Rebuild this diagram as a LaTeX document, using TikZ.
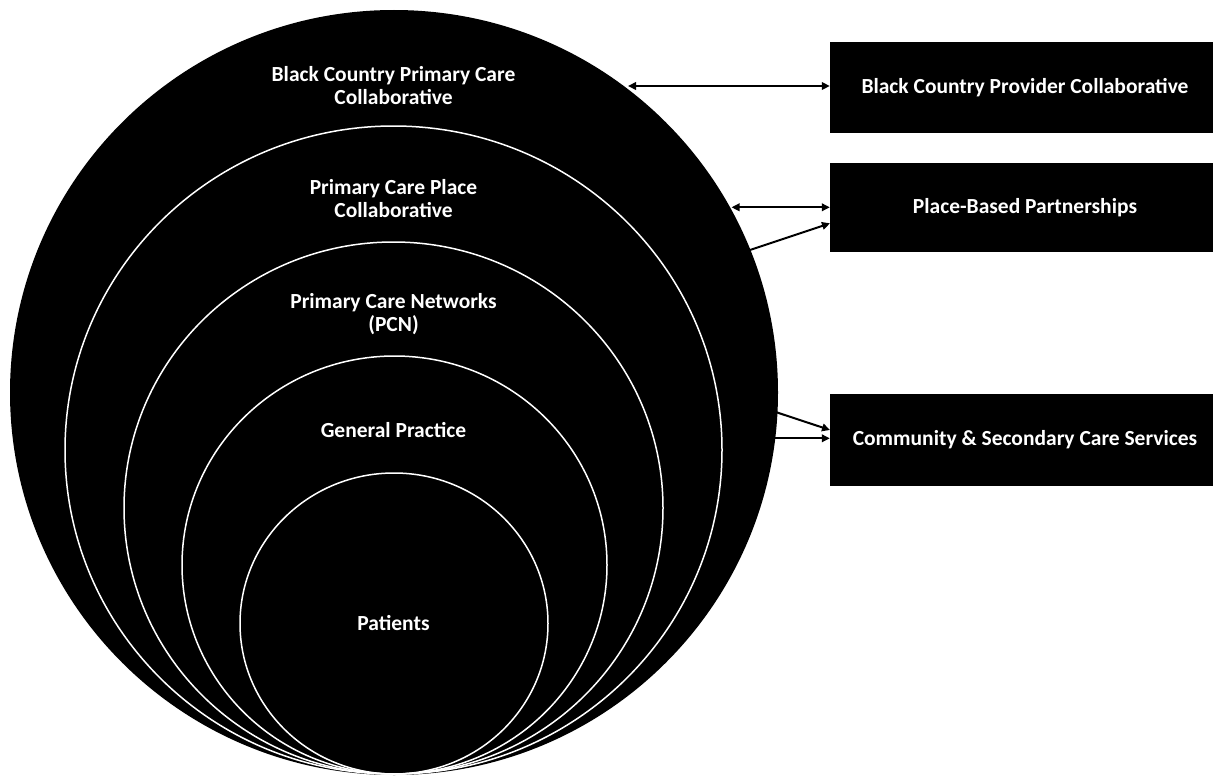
\documentclass[tikz,border=0pt]{standalone}
\usepackage{fontspec}
\setmainfont{Carlito}
\usetikzlibrary{arrows.meta,shapes.geometric}
\begin{document}
\begin{tikzpicture}[x=1pt,y=-1pt,
  ring/.style={draw=white,line width=1.5pt},
  lbl/.style={text=white,font=\bfseries\fontsize{21.5}{23}\selectfont,align=center,inner sep=0pt},
  boxnode/.style={fill=black,minimum width=390pt,minimum height=90pt,inner sep=0pt,
     text=white,font=\bfseries\fontsize{21.5}{23}\selectfont},
  conn/.style={line width=2pt},
  tip/.style={-{Triangle[length=8pt,width=7.5pt]}},
  dtip/.style={{Triangle[length=8pt,width=7.5pt]}-{Triangle[length=8pt,width=7.5pt]}}]
\useasboundingbox (0,0) rectangle (1213,776);
% circles
\fill[black] (394,392.5) ellipse [x radius=384, y radius=382.5];
\draw[ring] (393.5,450) ellipse [x radius=328.5, y radius=324];
\draw[ring] (393.5,508) ellipse [x radius=269.5, y radius=266];
\draw[ring] (394.5,565) ellipse [x radius=212.5, y radius=209];
\draw[ring] (394,623.5) ellipse [x radius=154, y radius=150.5];
% labels
\node[lbl] (l1) at (393.5,86) {Black Country Primary Care\\Collaborative};
\node[lbl] (l2) at (393.5,199) {Primary Care Place\\Collaborative};
\node[lbl] (l3) at (393.5,314) {Primary Care Networks\\(PCN)};
\node[lbl] (l4) at (393.5,430) {General Practice};
\node[lbl] (l5) at (393.5,623) {Patients};
% boxes
\node[boxnode,minimum height=91pt] (b1) at (1025,87.2) {Black Country Provider Collaborative};
\node[boxnode,minimum height=89pt] (b2) at (1025,207.2) {Place-Based Partnerships};
\node[boxnode,minimum height=92pt] (b3) at (1025,440) {Community \& Secondary Care Services};
% connector end points on the outer circle
\coordinate (p1) at (628,86);
\coordinate (p2) at (731.5,207.3);
\coordinate (p3) at (750,250);
\coordinate (p4) at (776.5,412.3);
\coordinate (p5) at (775,438.3);
\coordinate (q3) at (830,223.3);
\coordinate (q4) at (830,430);
\draw[conn,dtip] (p1) -- (p1 -| b1.west);
\draw[conn,dtip] (p2) -- (p2 -| b2.west);
\draw[conn,tip] (p3) -- (q3);
\draw[conn,tip] (p4) -- (q4);
\draw[conn,tip] (p5) -- (p5 -| b3.west);
\end{tikzpicture}
\end{document}
